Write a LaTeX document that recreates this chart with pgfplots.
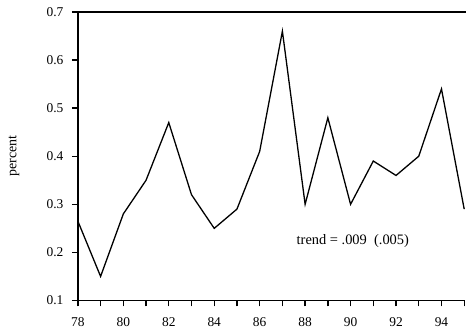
\documentclass[border=0pt]{standalone}
\usepackage{pgfplots}
\pgfplotsset{compat=1.18}
\usepackage{fontspec}
\setmainfont{Liberation Serif}
\begin{document}
\begin{tikzpicture}
\begin{axis}[
  scale only axis,
  width=387bp, height=289bp,
  xmin=78, xmax=95, ymin=0.1, ymax=0.7,
  axis x line=bottom, axis y line=left,
  axis line style={line width=1.6bp, -},
  xtick={78,80,...,94},
  minor xtick={79,81,...,95},
  ytick={0.1,0.2,...,0.7},
  yticklabel style={/pgf/number format/fixed,/pgf/number format/precision=1,/pgf/number format/fixed zerofill, xshift=-5bp},
  /pgf/number format/assume math mode=true,
  xtick align=outside, ytick align=outside,
  major tick length=6bp, minor tick length=6bp,
  tick style={line width=1.3bp, black},
  ticklabel style={font=\fontsize{13.5}{15}\selectfont},
  xticklabel style={yshift=-8bp},
  clip=false,
]
\addplot[black, line width=1.3bp] coordinates {
(78,0.265) (79,0.15) (80,0.28) (81,0.35) (82,0.47) (83,0.32) (84,0.25) (85,0.29) (86,0.41) (87,0.66) (88,0.30) (89,0.48) (90,0.30) (91,0.39) (92,0.36) (93,0.40) (94,0.54) (95,0.29)
};
\draw[line width=1.6bp] (rel axis cs:0,1) -- ([xshift=2bp]rel axis cs:1,1);
\node[font=\fontsize{14.5}{16}\selectfont] at (axis cs:90.1,0.2245) {trend = .009~~(.005)};
\node[font=\fontsize{14}{16}\selectfont, rotate=90] at ([xshift=-64bp]rel axis cs:0,0.5) {percent};
\path ([xshift=-78bp,yshift=-32bp]rel axis cs:0,0) rectangle ([xshift=2bp,yshift=12bp]rel axis cs:1,1);
\end{axis}
\end{tikzpicture}
\end{document}
